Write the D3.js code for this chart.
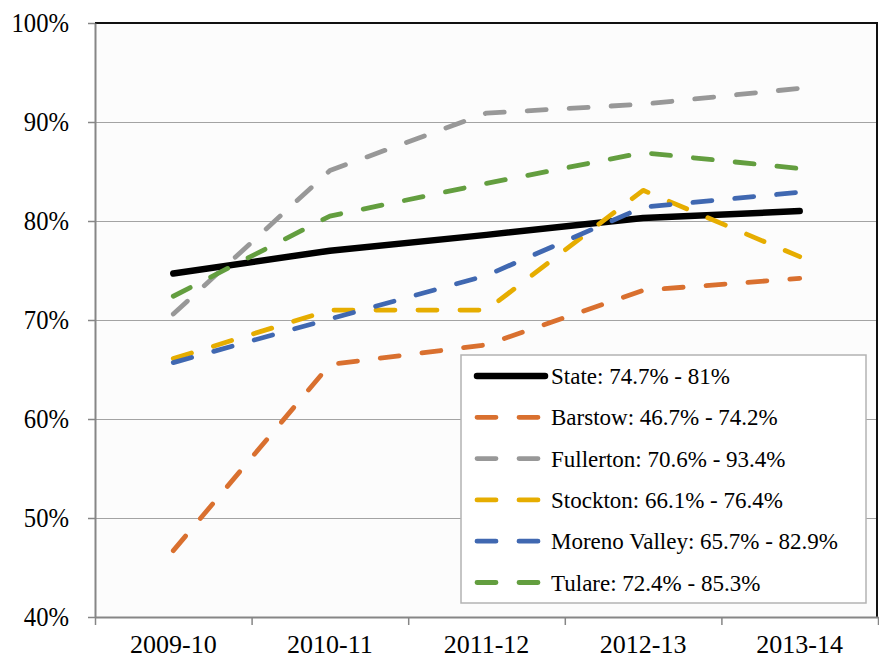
<!DOCTYPE html>
<html>
<head>
<meta charset="utf-8">
<script src="https://cdn.jsdelivr.net/npm/d3@7"></script>
</head>
<body style="margin:0; background:#fff">
<svg id="chart" width="879" height="660"></svg>
<script>
const years = ["2009-10", "2010-11", "2011-12", "2012-13", "2013-14"];
const yTicks = [40, 50, 60, 70, 80, 90, 100];

const state = [74.7, 77.0, 78.6, 80.3, 81.0];
const barstow = [46.7, 65.5, 67.5, 73.0, 74.2];
const fullerton = [70.6, 85.1, 90.9, 91.8, 93.4];
const stockton = [66.1, 71.0, 71.0, 83.1, 76.4];
const morenoValley = [65.7, 70.1, 74.5, 81.4, 82.9];
const tulare = [72.4, 80.5, 83.8, 86.9, 85.3];

const seriesNames = ["State: 74.7% - 81%", "Barstow: 46.7% - 74.2%", "Fullerton: 70.6% - 93.4%",
  "Stockton: 66.1% - 76.4%", "Moreno Valley: 65.7% - 82.9%", "Tulare: 72.4% - 85.3%"];
const seriesColors = ["#000000", "#d9702f", "#989898", "#e6ad00", "#4068b1", "#639e3f"];
const seriesValues = [state, barstow, fullerton, stockton, morenoValley, tulare];

const WIDTH = 879;
const HEIGHT = 660;
const FONT = '"Liberation Serif"';
const margin = { top: 23, right: 1, bottom: 43, left: 95 };

const svg = d3.select("#chart");

const xScale = d3.scaleBand()
  .domain(years)
  .range([margin.left, WIDTH - margin.right]);

const xEdges = d3.scaleLinear()
  .domain([0, years.length])
  .range([margin.left, WIDTH - margin.right]);

const yScale = d3.scaleLinear()
  .domain([40, 100])
  .range([HEIGHT - margin.bottom, margin.top]);

// axis labels in the source are a bit narrow and tall
function squeeze(sel, factor) {
  sel.each(function () {
    const w = this.getComputedTextLength();
    d3.select(this)
      .attr("textLength", w * factor)
      .attr("lengthAdjust", "spacingAndGlyphs");
  });
}

// plot background
svg.append("rect")
  .attr("x", margin.left)
  .attr("y", margin.top)
  .attr("width", WIDTH - margin.right - margin.left)
  .attr("height", HEIGHT - margin.bottom - margin.top)
  .attr("fill", "#fcfcfc");

// gridlines
svg.append("g")
  .selectAll("line")
  .data(yTicks.filter((d) => d > 40 && d < 100))
  .enter()
  .append("line")
  .attr("x1", margin.left)
  .attr("x2", WIDTH - margin.right)
  .attr("y1", (d) => yScale(d) + 0.5)
  .attr("y2", (d) => yScale(d) + 0.5)
  .attr("stroke", "#a3a3a3")
  .attr("stroke-width", 1);

// top and right border
svg.append("path")
  .attr("d", `M${margin.left},${margin.top} H${WIDTH - margin.right - 1} V${HEIGHT - margin.bottom}`)
  .attr("fill", "none")
  .attr("stroke", "#111")
  .attr("stroke-width", 2);

// y axis
const yAxis = svg.append("g")
  .attr("transform", `translate(${margin.left},0)`)
  .call(d3.axisLeft(yScale).tickValues(yTicks).tickFormat((d) => d + "%").tickSize(7).tickPadding(19).tickSizeOuter(0));
yAxis.select(".domain").attr("stroke", "#868686").attr("stroke-width", 2);
yAxis.selectAll(".tick line").attr("stroke", "#868686").attr("stroke-width", 1.5);
yAxis.selectAll(".tick text")
  .attr("fill", "#000")
  .style("font-family", FONT)
  .style("font-size", "28px")
  .call(squeeze, 0.88);

// x axis: labels centered in bands, ticks at band edges
const xAxis = svg.append("g")
  .attr("transform", `translate(0,${HEIGHT - margin.bottom})`)
  .call(d3.axisBottom(xScale).tickSize(0).tickPadding(17.5));
xAxis.select(".domain").remove();
xAxis.selectAll(".tick text")
  .attr("fill", "#000")
  .style("font-family", FONT)
  .style("font-size", "26px");

const xTicks = svg.append("g")
  .attr("transform", `translate(0,${HEIGHT - margin.bottom})`)
  .call(d3.axisBottom(xEdges).ticks(years.length).tickFormat("").tickSize(8).tickSizeOuter(0));
xTicks.select(".domain").attr("stroke", "#868686").attr("stroke-width", 2);
xTicks.selectAll(".tick line").attr("stroke", "#868686").attr("stroke-width", 1.5);

// lines
const line = d3.line()
  .x((d, i) => xScale(years[i]) + xScale.bandwidth() / 2)
  .y((d) => yScale(d));

svg.append("g")
  .selectAll("path")
  .data(seriesValues)
  .enter()
  .append("path")
  .attr("d", line)
  .attr("fill", "none")
  .attr("stroke", (d, i) => seriesColors[i])
  .attr("stroke-width", (d, i) => (i === 0 ? 6.5 : 4.8))
  .attr("stroke-linecap", "round")
  .attr("stroke-linejoin", "round")
  .attr("stroke-dasharray", (d, i) => (i === 0 ? null : "19,23"));

// legend
const legend = svg.append("g").attr("transform", "translate(461,355)");

legend.append("rect")
  .attr("x", 0)
  .attr("y", 0)
  .attr("width", 405)
  .attr("height", 248)
  .attr("fill", "#fff")
  .attr("stroke", "#b3b3b3")
  .attr("stroke-width", 1.5);

const rows = legend.selectAll(".row")
  .data(seriesNames)
  .enter()
  .append("g")
  .attr("class", "row")
  .attr("transform", (d, i) => `translate(0,${21 + i * 41.3})`);

rows.append("line")
  .attr("x1", 16)
  .attr("x2", (d, i) => (i === 0 ? 84 : 77))
  .attr("y1", 0)
  .attr("y2", 0)
  .attr("stroke", (d, i) => seriesColors[i])
  .attr("stroke-width", (d, i) => (i === 0 ? 6.5 : 4.8))
  .attr("stroke-linecap", "round")
  .attr("stroke-dasharray", (d, i) => (i === 0 ? null : "19,23"));

rows.append("text")
  .attr("x", 90)
  .attr("y", 8)
  .attr("fill", "#000")
  .style("font-family", FONT)
  .style("font-size", "23px")
  .text((d) => d);
</script>
</body>
</html>
